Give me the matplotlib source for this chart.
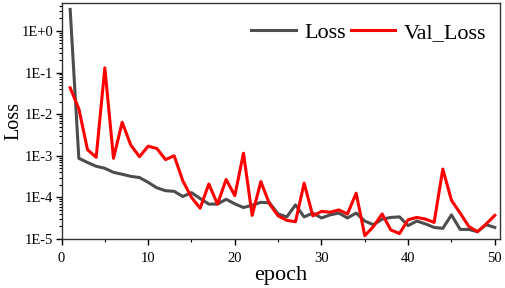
import math
import matplotlib
matplotlib.use("Agg")
import matplotlib.pyplot as plt
from matplotlib.ticker import LogLocator, FixedLocator, MultipleLocator, FuncFormatter

epochs = list(range(1, 51))
loss = [3.3, 8.7e-4, 6.9e-4, 5.6e-4, 5.0e-4, 4.0e-4, 3.6e-4, 3.2e-4, 3.0e-4, 2.3e-4,
        1.7e-4, 1.45e-4, 1.4e-4, 1.05e-4, 1.3e-4, 9.4e-5, 6.9e-5, 6.9e-5, 9.0e-5, 7.0e-5,
        5.7e-5, 6.5e-5, 7.6e-5, 7.4e-5, 4.0e-5, 3.4e-5, 6.6e-5, 3.4e-5, 4.2e-5, 3.2e-5,
        3.8e-5, 4.2e-5, 3.2e-5, 4.2e-5, 2.7e-5, 2.2e-5, 3.0e-5, 3.3e-5, 3.4e-5, 2.1e-5,
        2.7e-5, 2.3e-5, 1.9e-5, 1.8e-5, 3.8e-5, 1.7e-5, 1.7e-5, 1.5e-5, 2.2e-5, 1.9e-5]
val_loss = [4.3e-2, 1.35e-2, 1.4e-3, 9.2e-4, 0.13, 8.7e-4, 6.4e-3, 1.8e-3, 9.5e-4, 1.7e-3,
            1.5e-3, 8.1e-4, 1.0e-3, 2.5e-4, 1.0e-4, 5.5e-5, 2.1e-4, 6.9e-5, 2.7e-4, 1.1e-4,
            1.15e-3, 3.7e-5, 2.4e-4, 7.0e-5, 3.6e-5, 2.8e-5, 2.6e-5, 2.2e-4, 3.6e-5, 4.6e-5,
            4.4e-5, 5.0e-5, 4.0e-5, 1.26e-4, 1.2e-5, 2.0e-5, 4.0e-5, 1.65e-5, 1.35e-5, 2.9e-5,
            3.3e-5, 3.0e-5, 2.5e-5, 4.8e-4, 8.5e-5, 4.2e-5, 2.0e-5, 1.5e-5, 2.3e-5, 3.7e-5]

plt.rcParams['font.family'] = ['Liberation Serif', 'DejaVu Serif']

fig = plt.figure(figsize=(5.05, 2.88), dpi=100)
ax = fig.add_axes([61.5 / 505, 1 - 239 / 288, (500 - 61.5) / 505, (239 - 3) / 288])

ax.plot(epochs, loss, color='#4d4d4d', linewidth=2.2, label='Loss')
ax.plot(epochs, val_loss, color='#ff0000', linewidth=2.2, label='Val_Loss')

ax.set_yscale('log')
ax.set_ylim(1e-5, 4.7)
ax.set_xlim(0, 50.6)

ax.xaxis.set_major_locator(MultipleLocator(10))
ax.xaxis.set_minor_locator(MultipleLocator(5))
ax.yaxis.set_major_locator(FixedLocator([1e-5, 1e-4, 1e-3, 1e-2, 1e-1, 1e0]))
ax.yaxis.set_minor_locator(LogLocator(base=10, subs=range(2, 10), numticks=20))


def sci_fmt(v, pos):
    exp = int(round(math.log10(v)))
    return f"1E+{exp}" if exp >= 0 else f"1E{exp}"


ax.yaxis.set_major_formatter(FuncFormatter(sci_fmt))
ax.tick_params(axis='both', which='major', direction='out', length=4, width=1,
               labelsize=10.5, pad=2)
ax.tick_params(axis='x', which='major', pad=5)
ax.tick_params(axis='both', which='minor', direction='out', length=2, width=0.8)
ax.tick_params(axis='y', which='both', right=False)
ax.tick_params(axis='x', which='both', top=False)

for sp in ax.spines.values():
    sp.set_linewidth(1.0)
    sp.set_color('#333333')

ax.set_xlabel('epoch', fontsize=16, labelpad=1)
ax.set_ylabel('Loss', fontsize=14.5, va='center')
ax.yaxis.set_label_coords(-0.108, 0.5)

ax.legend(loc='upper right', ncol=2, frameon=False, fontsize=16,
          handlelength=2.0, handletextpad=0.4, columnspacing=0.2,
          borderaxespad=0.2, bbox_to_anchor=(1.0, 0.975))

fig.savefig('out.png', dpi=100)
